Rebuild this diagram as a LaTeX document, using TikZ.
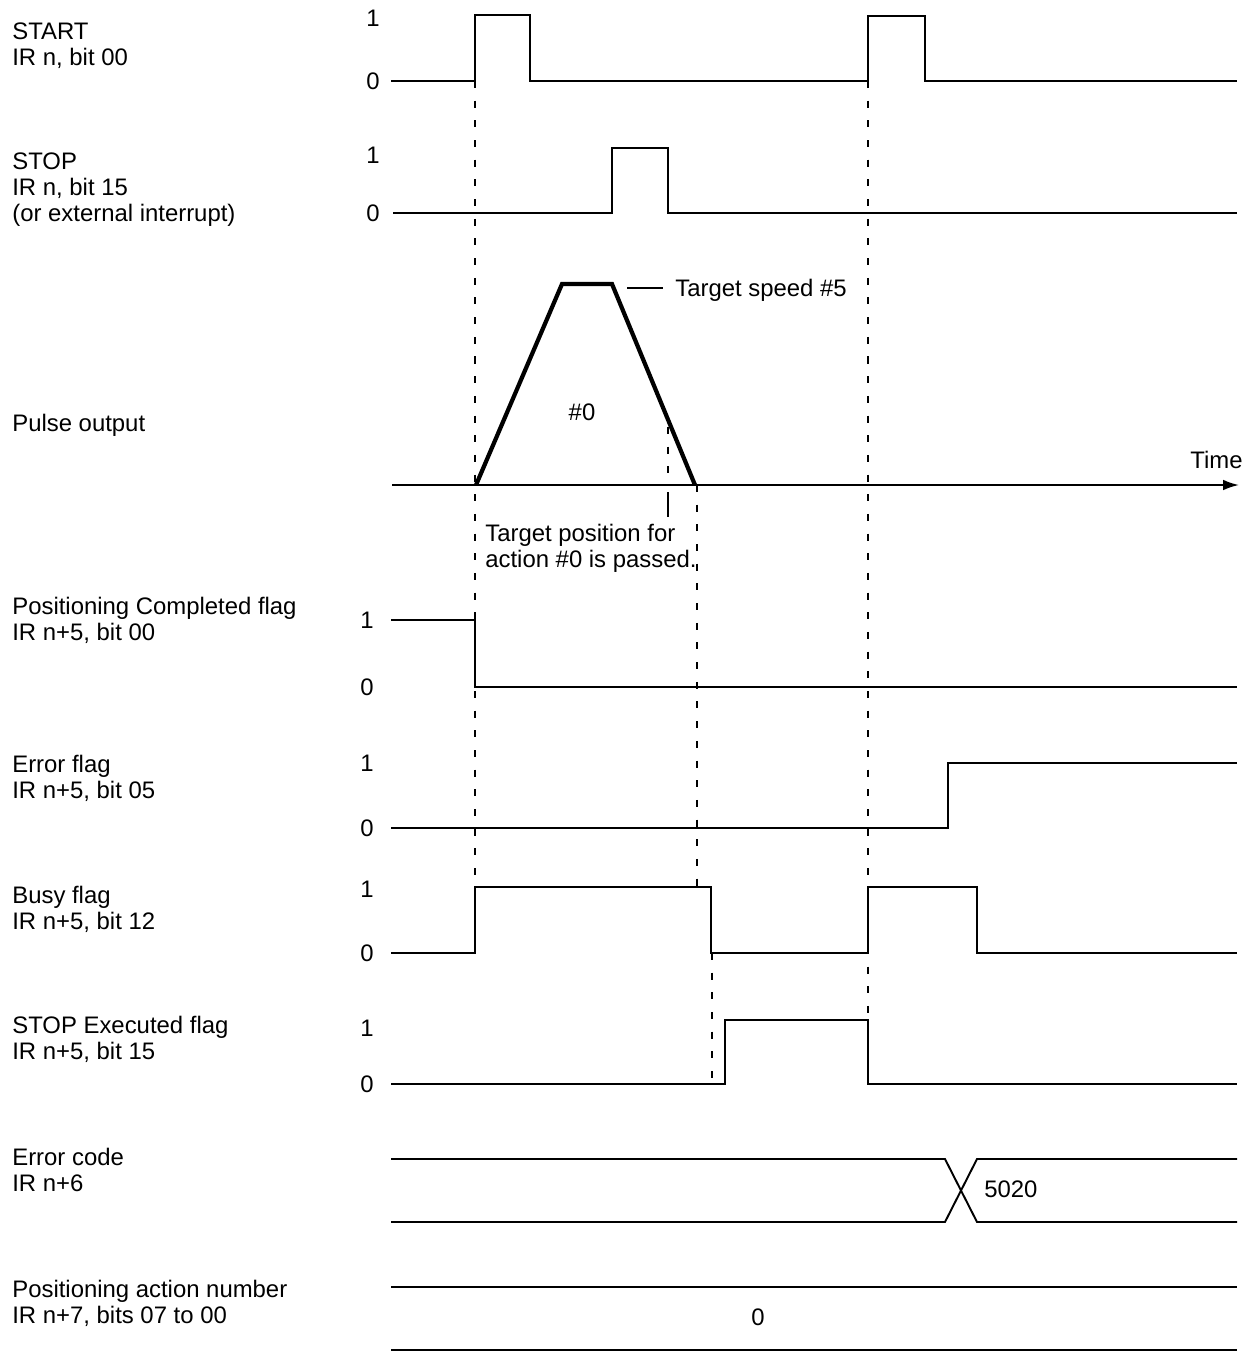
\documentclass[tikz,border=0pt]{standalone}
\usepackage{fontspec}
\setmainfont{Liberation Sans}
\usepackage{tikz}
\usetikzlibrary{arrows.meta,positioning}

\begin{document}
\begin{tikzpicture}[
    x=0.02cm, y=-0.02cm,
    font=\fontsize{13.6}{14.8}\selectfont,
    sig/.style={line width=1.1pt},
    ramp/.style={line width=2.4pt, line join=miter},
    guide/.style={line width=1.4pt, dash pattern=on 4pt off 7.2pt},
    signame/.style={anchor=north west, inner sep=0pt, align=left},
    lvl/.style={inner sep=0pt},
    arrow/.style={-{Latex[length=9pt, width=6pt]}, line width=1.1pt},
]
    \useasboundingbox (0,0) rectangle (1251,1353);

    \node[signame] (start) at (12,22) {START\\IR n, bit 00};
    \node[signame] (stop) at (12,152) {STOP\\IR n, bit 15\\(or external interrupt)};
    \node[signame] (pulse) at (12,414) {Pulse output};
    \node[signame] (poscomp) at (12,597) {Positioning Completed flag\\IR n+5, bit 00};
    \node[signame] (errflag) at (12,755) {Error flag\\IR n+5, bit 05};
    \node[signame] (busy) at (12,886) {Busy flag\\IR n+5, bit 12};
    \node[signame] (stopexec) at (12,1016) {STOP Executed flag\\IR n+5, bit 15};
    \node[signame] (errcode) at (12,1148) {Error code\\IR n+6};
    \node[signame] (actno) at (12,1280) {Positioning action number\\IR n+7, bits 07 to 00};

    \foreach \x/\y/\t in {373/18/1, 373/81/0, 373/155/1, 373/213/0,
                          367/620/1, 367/687/0, 367/763/1, 367/828/0,
                          367/889/1, 367/953/0, 367/1028/1, 367/1084/0}
        \node[lvl] (lv\y) at (\x,\y) {\t};

    \draw[sig] (391,81) -- (475,81) -- (475,15) -- (530,15) -- (530,81)
        -- (868,81) -- (868,16) -- (925,16) -- (925,81) -- (1237,81);
    \draw[sig] (393,213) -- (612,213) -- (612,148) -- (668,148) -- (668,213) -- (1237,213);

    \draw[arrow] (392,485) -- (1239,485);
    \draw[ramp] (476,485) -- (562,284) -- (612,284) -- (695,485);
    \node[anchor=base west, inner xsep=6.8pt, inner ysep=0pt] (tspeed) at (663,296) {Target speed \#5};
    \coordinate (tsp) at (627,288);
    \draw[sig] (tsp) -- (tsp -| tspeed.west);
    \node (act) at (582,412) {\#0};
    \node[anchor=base east, inner sep=0pt] (time) at (1243,468) {Time};
    \node[signame] (passed) at (485,524) {Target position for\\action \#0 is passed.};

    \draw[sig] (391,620) -- (475,620) -- (475,687) -- (1237,687);
    \draw[sig] (391,828) -- (948,828) -- (948,763) -- (1237,763);
    \draw[sig] (391,953) -- (475,953) -- (475,887) -- (711,887) -- (711,953)
        -- (868,953) -- (868,887) -- (977,887) -- (977,953) -- (1237,953);
    \draw[sig] (391,1084) -- (725,1084) -- (725,1020) -- (868,1020) -- (868,1084) -- (1237,1084);

    \draw[sig] (391,1159) -- (945,1159) -- (977,1222) -- (1237,1222);
    \draw[sig] (391,1222) -- (945,1222) -- (977,1159) -- (1237,1159);
    \node[anchor=base west, inner sep=0pt] (code) at (984,1197) {5020};

    \draw[sig] (391,1287) -- (1237,1287);
    \draw[sig] (391,1350) -- (1237,1350);
    \node (zero) at (758,1317) {0};

    \coordinate (g1a) at (475,81);  \coordinate (g1b) at (475,887);
    \coordinate (g2a) at (868,81);  \coordinate (g2b) at (868,1020);
    \coordinate (g3a) at (697,485); \coordinate (g3b) at (697,887);
    \coordinate (g4a) at (712,953); \coordinate (g4b) at (712,1084);
    \coordinate (g5a) at (668,427); \coordinate (g5b) at (668,485);
    \draw[guide] (g1a) -- (g1b);
    \draw[guide] (g2a) -- (g2b);
    \draw[guide] (g3a) -- (g3b);
    \draw[guide] (g4a) -- (g4b);
    \draw[guide] (g5a) -- (g5b);
    \draw[sig] (668,492) -- (668,517);
\end{tikzpicture}
\end{document}
